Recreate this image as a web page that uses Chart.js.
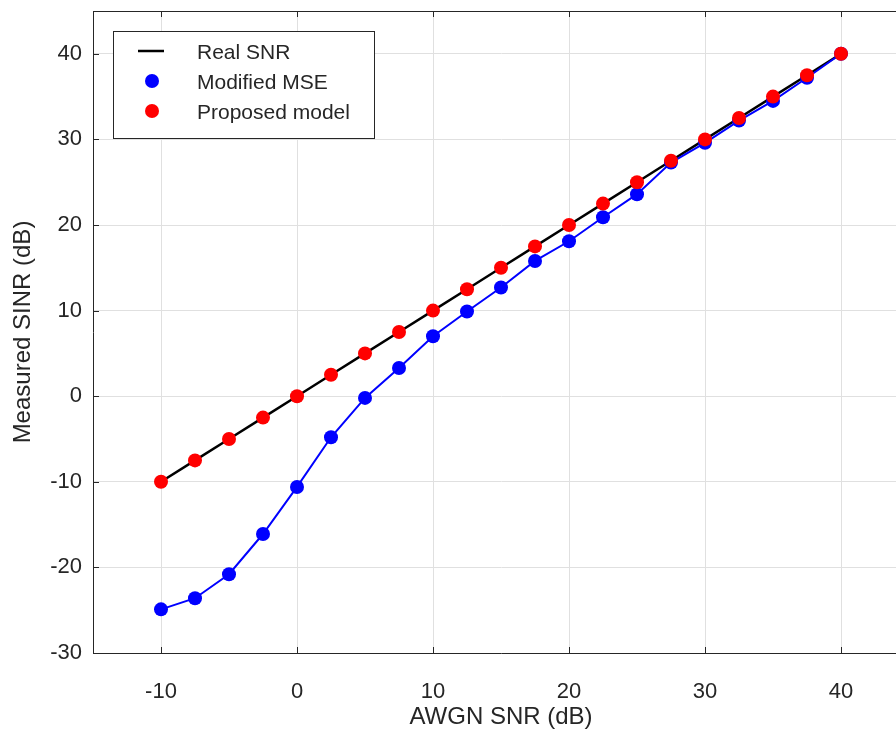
<!DOCTYPE html>
<html>
<head>
<meta charset="utf-8">
<script src="https://cdn.jsdelivr.net/npm/chart.js@4.4.1/dist/chart.umd.min.js"></script>
<style>
  html, body { margin: 0; padding: 0; background: #fff; overflow: hidden; }
  #wrap { width: 916px; height: 733px; }
</style>
</head>
<body>
<div id="wrap"><canvas id="snrChart" width="916" height="733"></canvas></div>
<script>
// AWGN SNR values (dB)
var awgnSnr = [-10, -7.5, -5, -2.5, 0, 2.5, 5, 7.5, 10, 12.5, 15, 17.5, 20, 22.5, 25, 27.5, 30, 32.5, 35, 37.5, 40];
// Reference line
var realSnr = [-10, -7.5, -5, -2.5, 0, 2.5, 5, 7.5, 10, 12.5, 15, 17.5, 20, 22.5, 25, 27.5, 30, 32.5, 35, 37.5, 40];
// Measured SINR, modified MSE estimator
var modifiedMse = [-24.9, -23.6, -20.8, -16.1, -10.6, -4.8, -0.2, 3.3, 7.0, 9.9, 12.7, 15.8, 18.1, 20.9, 23.6, 27.3, 29.6, 32.2, 34.5, 37.2, 40.0];
// Measured SINR, proposed model
var proposedModel = [-10, -7.5, -5, -2.5, 0, 2.5, 5, 7.5, 10, 12.5, 15, 17.5, 20, 22.5, 25, 27.5, 30, 32.5, 35, 37.5, 40];

var xTicks = [-10, 0, 10, 20, 30, 40];
var yTicks = [-30, -20, -10, 0, 10, 20, 30, 40];

var AXIS = '#262626';
var GRID = '#e0e0e0';
var FONT = 'Liberation Sans, Arial, sans-serif';

function pts(ys) {
    return awgnSnr.map(function (x, i) { return { x: x, y: ys[i] }; });
}

// box ticks + top border (MATLAB style)
var boxPlugin = {
    id: 'box',
    afterDatasetsDraw: function (chart) {
        var ctx = chart.ctx, a = chart.chartArea;
        var xs = chart.scales.x, ys = chart.scales.y;
        ctx.save();
        ctx.strokeStyle = AXIS;
        ctx.lineWidth = 1;
        ctx.beginPath();
        ctx.moveTo(a.left, a.top + 0.5);
        ctx.lineTo(a.right, a.top + 0.5);
        xTicks.forEach(function (v) {
            var px = Math.round(xs.getPixelForValue(v)) + 0.5;
            ctx.moveTo(px, a.bottom); ctx.lineTo(px, a.bottom - 6);
            ctx.moveTo(px, a.top); ctx.lineTo(px, a.top + 6);
        });
        yTicks.forEach(function (v) {
            var py = Math.round(ys.getPixelForValue(v)) + 0.5;
            ctx.moveTo(a.left, py); ctx.lineTo(a.left + 6, py);
        });
        ctx.stroke();
        ctx.restore();
    },
    afterDraw: function (chart) {
        var ctx = chart.ctx, a = chart.chartArea;
        var bx = a.left + 20, by = a.top + 20, bw = 261, bh = 107;
        ctx.save();
        ctx.fillStyle = '#fff';
        ctx.fillRect(bx, by, bw, bh);
        ctx.strokeStyle = AXIS;
        ctx.lineWidth = 1;
        ctx.strokeRect(bx + 0.5, by + 0.5, bw, bh);
        ctx.font = '21px ' + FONT;
        ctx.textBaseline = 'middle';
        ctx.textAlign = 'left';
        var rows = [
            { label: 'Real SNR', kind: 'line', color: '#000' },
            { label: 'Modified MSE', kind: 'dot', color: '#0000ff' },
            { label: 'Proposed model', kind: 'dot', color: '#ff0000' }
        ];
        rows.forEach(function (r, i) {
            var cy = by + 20 + i * 30;
            if (r.kind === 'line') {
                ctx.strokeStyle = r.color;
                ctx.lineWidth = 2.5;
                ctx.beginPath();
                ctx.moveTo(bx + 25, cy); ctx.lineTo(bx + 51, cy);
                ctx.stroke();
            } else {
                ctx.fillStyle = r.color;
                ctx.beginPath();
                ctx.arc(bx + 39, cy, 7, 0, Math.PI * 2);
                ctx.fill();
            }
            ctx.fillStyle = AXIS;
            ctx.fillText(r.label, bx + 84, cy + 2);
        });
        ctx.restore();
    }
};

new Chart(document.getElementById('snrChart'), {
    type: 'scatter',
    data: {
        datasets: [
            {
                label: 'Proposed model',
                data: pts(proposedModel),
                showLine: false,
                pointRadius: 7,
                pointBackgroundColor: '#ff0000',
                pointBorderWidth: 0,
                order: 1
            },
            {
                label: 'Modified MSE',
                data: pts(modifiedMse),
                showLine: true,
                borderColor: '#0000ff',
                borderWidth: 2,
                pointRadius: 7,
                pointBackgroundColor: '#0000ff',
                pointBorderWidth: 0,
                order: 2
            },
            {
                label: 'Real SNR',
                data: pts(realSnr),
                showLine: true,
                borderColor: '#000000',
                borderWidth: 2.5,
                pointRadius: 0,
                order: 3
            }
        ]
    },
    options: {
        responsive: false,
        animation: false,
        layout: { padding: { top: 11, right: 0, bottom: 0, left: 0 } },
        plugins: {
            legend: { display: false },
            tooltip: { enabled: false }
        },
        scales: {
            x: {
                type: 'linear',
                min: -15,
                max: 45,
                afterBuildTicks: function (s) { s.ticks = xTicks.map(function (v) { return { value: v }; }); },
                afterFit: function (s) { s.height = 80; s.paddingLeft = 0; s.paddingRight = 0; },
                grid: { color: GRID, drawTicks: false },
                border: { color: AXIS, width: 1 },
                ticks: { color: AXIS, padding: 26, font: { family: FONT, size: 22 } },
                title: {
                    display: true,
                    text: 'AWGN SNR (dB)',
                    color: AXIS,
                    padding: { top: 0, bottom: 1 },
                    font: { family: FONT, size: 24, lineHeight: 1.2 }
                }
            },
            y: {
                type: 'linear',
                min: -30,
                max: 45,
                afterBuildTicks: function (s) { s.ticks = yTicks.map(function (v) { return { value: v }; }); },
                afterFit: function (s) { s.width = 93; s.paddingTop = 0; s.paddingBottom = 0; },
                grid: { color: GRID, drawTicks: false },
                border: { color: AXIS, width: 1 },
                ticks: { color: AXIS, padding: 11, font: { family: FONT, size: 22 } },
                title: {
                    display: true,
                    text: 'Measured SINR (dB)',
                    color: AXIS,
                    padding: { top: 9, bottom: 0 },
                    font: { family: FONT, size: 24, lineHeight: 1.2 }
                }
            }
        }
    },
    plugins: [boxPlugin]
});
</script>
</body>
</html>
